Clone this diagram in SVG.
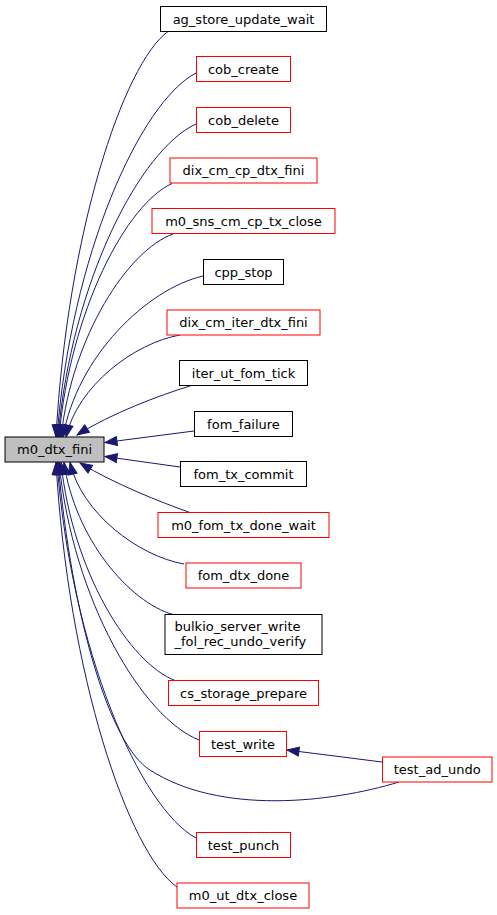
<svg xmlns="http://www.w3.org/2000/svg" width="497" height="915" viewBox="0 0 497 915">
<style>
.n rect{fill:#ffffff;stroke-width:1}
.k rect{stroke:#000000}
.r rect{stroke:#ff0000}
.m rect{fill:#bfbfbf;stroke:#000000}
text{font-family:"DejaVu Sans","Liberation Sans",sans-serif;font-size:13px;fill:#000000;text-anchor:middle}
.e path{fill:none;stroke:#191970;stroke-width:1;marker-end:url(#ah)}
</style>
<defs>
<marker id="ah" markerUnits="userSpaceOnUse" markerWidth="14" markerHeight="12" refX="12" refY="5" orient="auto" overflow="visible">
<path d="M0,0.5 L12,5 L0,9.5 z" fill="#191970" stroke="#191970" stroke-width="1"/>
</marker>
</defs>
<rect width="497" height="915" fill="#ffffff"/>
<g class="e" id="edges">
<path d="M168,31.5 C123.2,64 67.2,234 56,437"/>
<path d="M196,73 C140.4,102 70.9,255 57,437"/>
<path d="M196,124 C140.8,149 71.8,280.5 58,437"/>
<path d="M172,183.5 C126.8,203.8 70.3,310 59,437"/>
<path d="M173,234 C128.2,250 72.2,335.5 61,437"/>
<path d="M203,276 C147,289 77,356.5 63,437"/>
<path d="M180,335 C134.4,343 77.4,386 66,437"/>
<path d="M190,386 C160,395 110,414 77,435"/>
<path d="M194,431 L105,442.5"/>
<path d="M180,467 L105,456.5"/>
<path d="M190,512.5 C160,502 115,484 80,463"/>
<path d="M184,564 C138.4,556 81.4,513 70,462.5"/>
<path d="M173,614.5 C129.4,602.3 74.9,538.5 64,462.5"/>
<path d="M175,680.5 C129.4,663 72.4,571.5 61,462.5"/>
<path d="M199,740 C143,718 73,601 59,462.5"/>
<path d="M399,782 C330,803 220,815 150,770 C110,745 72,620 58,462.5"/>
<path d="M196,838 C140.4,808 70.9,650 57,462.5"/>
<path d="M177,887 C128.6,853 68.1,675 56,462.5"/>
<path d="M382,762 L287,750"/>
</g>
<g id="m0_dtx_fini" class="n m"><rect x="5" y="437" width="99" height="25"/><text x="54.5" y="454">m0_dtx_fini</text></g>
<g id="ag_store_update_wait" class="n k"><rect x="160.5" y="6.5" width="166" height="25"/><text x="243.5" y="23.5">ag_store_update_wait</text></g>
<g id="cob_create" class="n r"><rect x="196.5" y="56.5" width="94" height="25"/><text x="243.5" y="73.5">cob_create</text></g>
<g id="cob_delete" class="n r"><rect x="196.5" y="107.5" width="94" height="25"/><text x="243.5" y="124.5">cob_delete</text></g>
<g id="dix_cm_cp_dtx_fini" class="n r"><rect x="170" y="158" width="147" height="25"/><text x="243.5" y="175">dix_cm_cp_dtx_fini</text></g>
<g id="m0_sns_cm_cp_tx_close" class="n r"><rect x="152" y="208.5" width="183" height="25"/><text x="243.5" y="225.5">m0_sns_cm_cp_tx_close</text></g>
<g id="cpp_stop" class="n k"><rect x="203.5" y="259.5" width="80" height="25"/><text x="243.5" y="276.5">cpp_stop</text></g>
<g id="dix_cm_iter_dtx_fini" class="n r"><rect x="167" y="310" width="153" height="25"/><text x="243.5" y="327">dix_cm_iter_dtx_fini</text></g>
<g id="iter_ut_fom_tick" class="n k"><rect x="179.5" y="360.5" width="128" height="25"/><text x="243.5" y="377.5">iter_ut_fom_tick</text></g>
<g id="fom_failure" class="n k"><rect x="194.5" y="411.5" width="98" height="25"/><text x="243.5" y="428.5">fom_failure</text></g>
<g id="fom_tx_commit" class="n k"><rect x="180.5" y="461.5" width="126" height="25"/><text x="243.5" y="478.5">fom_tx_commit</text></g>
<g id="m0_fom_tx_done_wait" class="n r"><rect x="158" y="512.5" width="171" height="25"/><text x="243.5" y="529.5">m0_fom_tx_done_wait</text></g>
<g id="fom_dtx_done" class="n r"><rect x="186" y="563" width="115" height="25"/><text x="243.5" y="580">fom_dtx_done</text></g>
<g id="bulkio_server_write_fol_rec_undo_verify" class="n k"><rect x="165" y="614.5" width="157" height="40"/><text x="174.5" y="630.5" style="text-anchor:start">bulkio_server_write</text><text x="174.5" y="645.5" style="text-anchor:start">_fol_rec_undo_verify</text></g>
<g id="cs_storage_prepare" class="n r"><rect x="168.5" y="680.5" width="150" height="25"/><text x="243.5" y="697.5">cs_storage_prepare</text></g>
<g id="test_write" class="n r"><rect x="199.5" y="731.5" width="87" height="25"/><text x="243" y="748.5">test_write</text></g>
<g id="test_ad_undo" class="n r"><rect x="382.5" y="757" width="109.5" height="25"/><text x="437.2" y="774">test_ad_undo</text></g>
<g id="test_punch" class="n r"><rect x="196.5" y="832.5" width="94" height="25"/><text x="243.5" y="849.5">test_punch</text></g>
<g id="m0_ut_dtx_close" class="n r"><rect x="177" y="883" width="132" height="25"/><text x="243" y="900">m0_ut_dtx_close</text></g>
</svg>
